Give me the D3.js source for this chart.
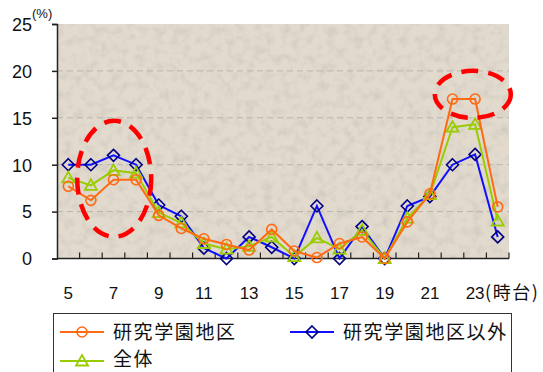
<!DOCTYPE html>
<html>
<head>
<meta charset="utf-8">
<script src="https://cdn.jsdelivr.net/npm/d3@7/dist/d3.min.js"></script>
<style>
  html, body { margin: 0; padding: 0; background: #fff; }
  svg { display: block; }
  .num { font-family: "Liberation Sans", Arial, sans-serif; }
  .jp { font-family: "Noto Sans CJK JP", sans-serif; }
</style>
</head>
<body>
<svg id="chart" width="543" height="372"></svg>
<script>
// Hour of day (時台) and share of trips per hour (%)
const hours = [5, 6, 7, 8, 9, 10, 11, 12, 13, 14, 15, 16, 17, 18, 19, 20, 21, 22, 23, 24];
const tsukubaArea = [7.7, 6.2, 8.4, 8.4, 4.6, 3.2, 2.1, 1.5, 0.9, 3.1, 0.8, 0.1, 1.6, 2.3, 0.0, 3.9, 6.9, 17.0, 17.0, 5.5];
const outsideArea = [10.0, 10.0, 11.0, 10.0, 5.7, 4.5, 1.1, 0.0, 2.3, 1.2, 0.0, 5.6, 0.0, 3.4, 0.0, 5.6, 6.6, 10.0, 11.1, 2.3];
const overall = [8.6, 7.8, 9.4, 9.1, 4.9, 3.8, 1.6, 1.0, 1.3, 2.3, 0.2, 2.2, 1.0, 3.0, 0.0, 4.3, 6.8, 14.0, 14.3, 4.0];
const yTicks = [0, 5, 10, 15, 20, 25];
const xLabels = [5, 7, 9, 11, 13, 15, 17, 19, 21, 23];

const seriesNames = ["研究学園地区", "研究学園地区以外", "全体"];

const svg = d3.select("#chart");
const plotL = 57, plotR = 509, plotT = 24, plotB = 258.5;

const x = d3.scaleBand().domain(hours).range([plotL, plotR]).padding(0);
const y = d3.scaleLinear().domain([0, 25]).range([plotB, plotT]);
const cx = h => x(h) + x.bandwidth() / 2;

// textured plot background
const defs = svg.append("defs");
const f = defs.append("filter").attr("id", "grain")
  .attr("x", 0).attr("y", 0).attr("width", 1).attr("height", 1);
f.append("feTurbulence").attr("type", "fractalNoise")
  .attr("baseFrequency", 0.11).attr("numOctaves", 3).attr("seed", 7).attr("result", "noise");
f.append("feColorMatrix").attr("in", "noise").attr("type", "matrix")
  .attr("values", "0 0 0 0 0.5  0 0 0 0 0.47  0 0 0 0 0.43  0 0 0 -1.8 1.0")
  .attr("result", "spots");
f.append("feComposite").attr("in", "spots").attr("in2", "SourceGraphic").attr("operator", "atop");

svg.append("rect")
  .attr("x", plotL).attr("y", plotT)
  .attr("width", plotR - plotL).attr("height", plotB - plotT)
  .attr("fill", "#e2dacd");
svg.append("rect")
  .attr("x", plotL).attr("y", plotT)
  .attr("width", plotR - plotL).attr("height", plotB - plotT)
  .attr("fill", "#e2dacd")
  .attr("filter", "url(#grain)")
  .attr("opacity", 0.5);

// horizontal dashed gridlines
svg.append("g").selectAll("line")
  .data(yTicks.filter(t => t > 0 && t < 25))
  .join("line")
  .attr("x1", plotL).attr("x2", plotR)
  .attr("y1", d => y(d)).attr("y2", d => y(d))
  .attr("stroke", "#b8b4ae").attr("stroke-width", 1)
  .attr("stroke-dasharray", "6,4");

// y axis
const yAxis = svg.append("g")
  .attr("transform", `translate(${plotL},0)`)
  .call(d3.axisLeft(y).tickValues(yTicks).tickSize(5).tickPadding(20).tickFormat(d3.format("d")));
yAxis.select(".domain").attr("stroke", "#222").attr("stroke-width", 1.5);
yAxis.selectAll(".tick line").attr("stroke", "#222").attr("stroke-width", 1.5);
yAxis.selectAll(".tick text")
  .attr("class", "num").attr("font-size", 18).attr("fill", "#111")
  .attr("dy", "0.35em");

svg.append("text").attr("class", "num")
  .attr("x", 32).attr("y", 18).attr("font-size", 13).attr("fill", "#111")
  .text("(%)");

// x axis with inward ticks at category boundaries
const xAxisG = svg.append("g");
xAxisG.append("line")
  .attr("x1", plotL).attr("x2", plotR).attr("y1", plotB).attr("y2", plotB)
  .attr("stroke", "#222").attr("stroke-width", 1.5);
xAxisG.selectAll("line.tk")
  .data(hours.slice(1).concat(["end"]))
  .join("line").attr("class", "tk")
  .attr("x1", d => d === "end" ? plotR : x(d))
  .attr("x2", d => d === "end" ? plotR : x(d))
  .attr("y1", plotB).attr("y2", plotB - 6)
  .attr("stroke", "#222").attr("stroke-width", 1.2);

xAxisG.selectAll("text.lbl")
  .data(xLabels)
  .join("text").attr("class", "num lbl")
  .attr("x", d => cx(d)).attr("y", 299)
  .attr("text-anchor", "middle")
  .attr("font-size", 17).attr("fill", "#111")
  .text(d => d);
svg.append("text").attr("class", "jp")
  .attr("x", cx(23) + 10).attr("y", 299)
  .attr("font-size", 18).attr("letter-spacing", 1.5).attr("fill", "#111")
  .text("(時台)");

// series
const series = [
  { name: seriesNames[0], values: tsukubaArea, line: "#ff6a13", mark: "#ff6a13", shape: "circle" },
  { name: seriesNames[1], values: outsideArea, line: "#1010ff", mark: "#000080", shape: "diamond" },
  { name: seriesNames[2], values: overall, line: "#99cc00", mark: "#99cc00", shape: "triangle" }
];

function drawMarker(g, shape, color, px, py) {
  if (shape === "circle") {
    g.append("circle").attr("cx", px).attr("cy", py).attr("r", 5)
      .attr("fill", "none").attr("stroke", color).attr("stroke-width", 1.6);
  } else if (shape === "diamond") {
    const s = 6;
    g.append("path")
      .attr("d", `M${px},${py - s}L${px + s},${py}L${px},${py + s}L${px - s},${py}Z`)
      .attr("fill", "none").attr("stroke", color).attr("stroke-width", 1.6);
  } else {
    const s = 6;
    g.append("path")
      .attr("d", `M${px},${py - s}L${px + s},${py + s * 0.75}L${px - s},${py + s * 0.75}Z`)
      .attr("fill", "none").attr("stroke", color).attr("stroke-width", 1.8);
  }
}

const line = d3.line().x((d, i) => cx(hours[i])).y(d => y(d));

// draw order: blue, green, orange
[series[1], series[2], series[0]].forEach(s => {
  const g = svg.append("g");
  g.append("path").datum(s.values)
    .attr("d", line)
    .attr("fill", "none").attr("stroke", s.line).attr("stroke-width", 2);
  s.values.forEach((v, i) => drawMarker(g, s.shape, s.mark, cx(hours[i]), y(v)));
});

// red dashed highlight ellipses
const highlights = [
  { h0: 5, h1: 8, v: 8.5, rx: 37, ry: 58, dx: 12 },
  { h0: 22, h1: 23, v: 17.5, rx: 38, ry: 23.5, dx: 9 }
];
highlights.forEach(hl => {
  const mx = (cx(hl.h0) + cx(hl.h1)) / 2 + hl.dx;
  svg.append("ellipse")
    .attr("cx", mx).attr("cy", y(hl.v))
    .attr("rx", hl.rx).attr("ry", hl.ry)
    .attr("fill", "none").attr("stroke", "#ff0000")
    .attr("stroke-width", 4.5).attr("stroke-dasharray", "17,10");
});

// legend
const lg = svg.append("g");
lg.append("rect")
  .attr("x", 53.5).attr("y", 313.5).attr("width", 458).attr("height", 70)
  .attr("fill", "#fff").attr("stroke", "#333").attr("stroke-width", 1);
const legendPos = [
  { s: series[0], lx: 60, ly: 332, dy: 7 },
  { s: series[1], lx: 290, ly: 332, dy: 7 },
  { s: series[2], lx: 60, ly: 361, dy: 5 }
];
legendPos.forEach(p => {
  lg.append("line")
    .attr("x1", p.lx).attr("x2", p.lx + 44)
    .attr("y1", p.ly).attr("y2", p.ly)
    .attr("stroke", p.s.line).attr("stroke-width", 2);
  drawMarker(lg, p.s.shape, p.s.mark, p.lx + 22, p.ly);
  lg.append("text").attr("class", "jp")
    .attr("x", p.lx + 53).attr("y", p.ly + p.dy)
    .attr("font-size", 19).attr("letter-spacing", 1.6).attr("fill", "#111")
    .text(p.s.name);
});
</script>
</body>
</html>
